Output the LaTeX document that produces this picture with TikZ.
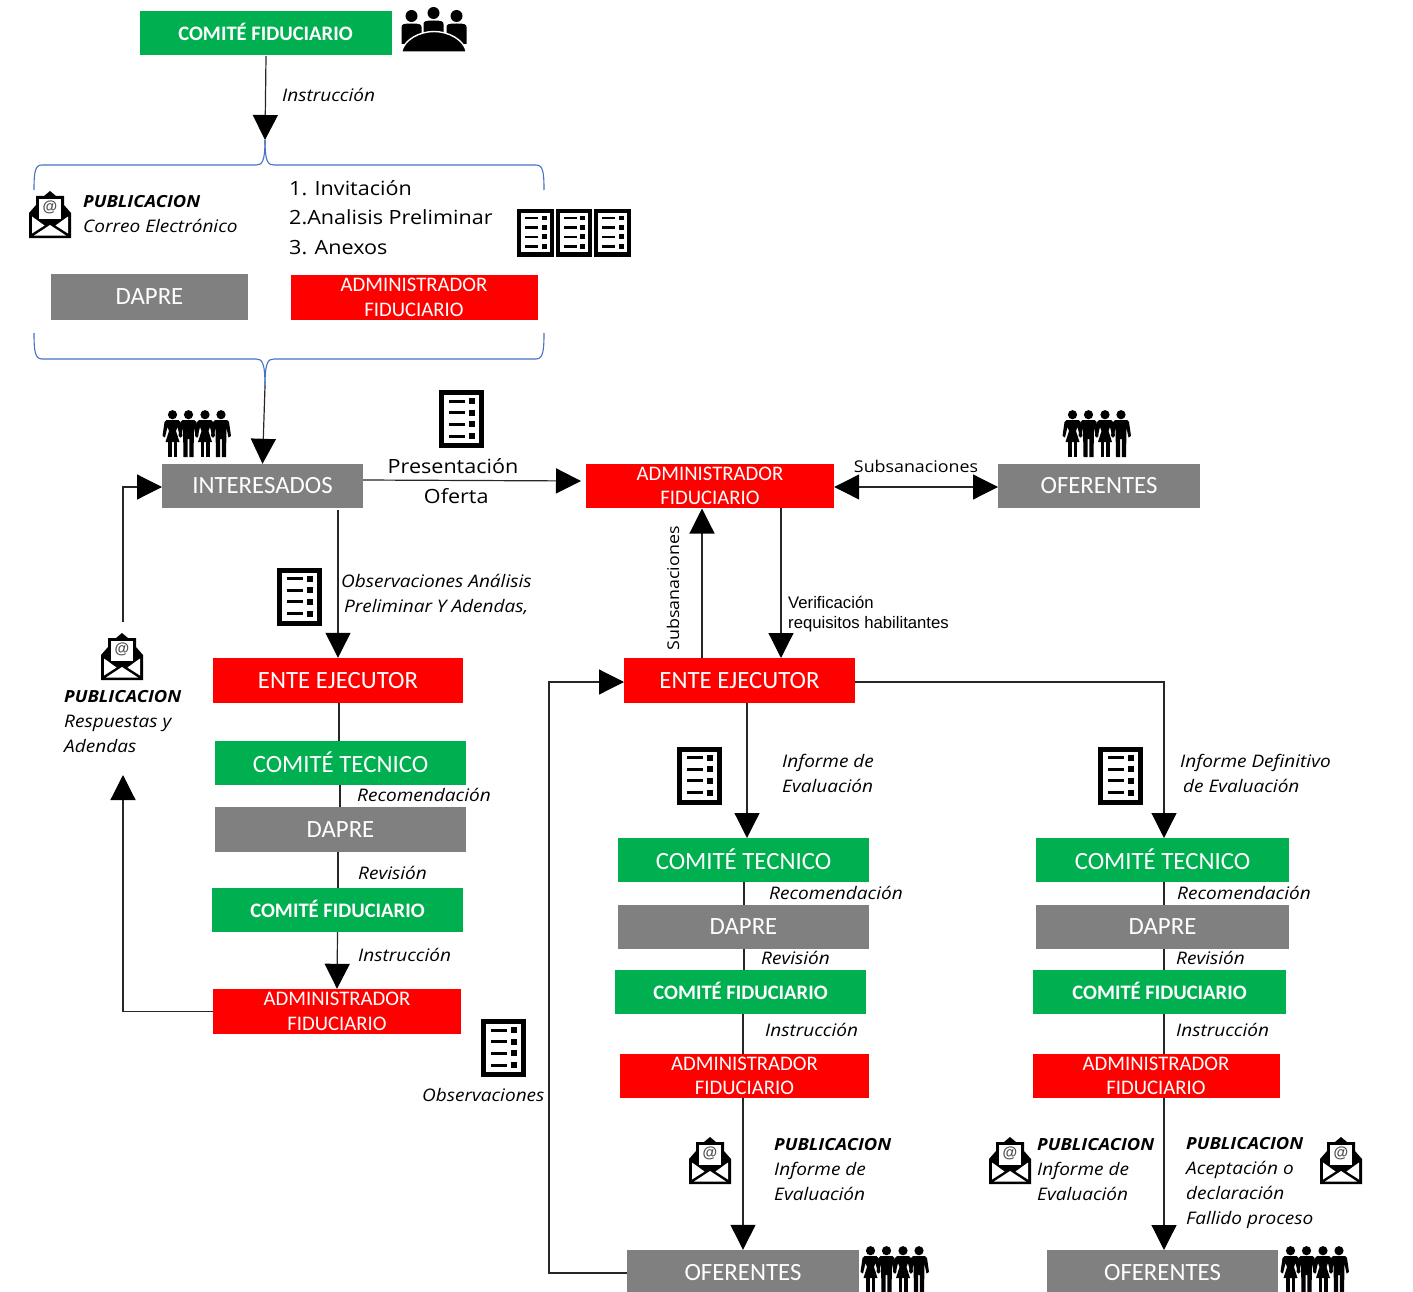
\documentclass[tikz,border=0pt]{standalone}
\usepackage{fontspec}
\setmainfont{Carlito}
\newfontfamily\labfont[FakeStretch=1.1]{Open Sans}
\newfontfamily\arialfont{Liberation Sans}
\usetikzlibrary{arrows.meta,calc}
\definecolor{gbox}{HTML}{00B050}
\definecolor{rbox}{HTML}{FF0000}
\definecolor{ybox}{HTML}{808080}
\definecolor{bracecol}{HTML}{4472C4}
\newcommand{\upt}[1]{\raisebox{1.5pt}{#1}}
\newcommand{\pubt}{{\fontsize{16.7}{25}\selectfont\bfseries PUBLICACION}}
\tikzset{
  x=1pt,y=-1pt,
  boxbase/.style={inner sep=0pt,text=white,align=center,font=\fontsize{24.8}{28}\selectfont},
  green box/.style={boxbase,fill=gbox},
  red box/.style={boxbase,fill=rbox},
  grey box/.style={boxbase,fill=ybox},
  cfid/.style={green box,font=\fontsize{20.6}{24}\selectfont\bfseries},
  adm/.style={red box,font=\fontsize{20.7}{24.5}\selectfont},
  lab/.style={inner sep=0pt,anchor=west,align=left,font=\labfont\fontsize{17.3}{25}\selectfont\itshape},
  plainlab/.style={inner sep=0pt,align=left,font=\labfont\fontsize{19.6}{29.5}\selectfont},
  subs/.style={inner sep=0pt,font=\labfont\fontsize{16.2}{18}\selectfont},
  conn/.style={line width=1.2pt,black!85},
  arr/.style={conn,-{Triangle[width=25pt,length=25pt,color=black]}},
  darr/.style={conn,{Triangle[width=25pt,length=25pt,color=black]}-{Triangle[width=25pt,length=25pt,color=black]}},
  bracepath/.style={draw=bracecol,line width=1.1pt},
  doc/.pic={
    \fill[black] (0,0) rectangle (45,58);
    \fill[white] (5,5) rectangle (40,53);
    \foreach \yy in {11,22.5,34,46}{
      \fill[black] (10,\yy-1.5) rectangle (26,\yy+1.5);
      \fill[black] (30,\yy-3) rectangle (36,\yy+3);
    }
  },
  mail/.pic={
    \fill[black] (0,21)--(7,13)--(7,4)--(15,4)--(21,-1)--(27,4)--(35,4)--(35,13)--(42,21)--(42,46)--(0,46)--cycle;
    \fill[white] (10,7) rectangle (32,27);
    \node[inner sep=0pt,font=\arialfont\fontsize{15}{15}\selectfont\bfseries,text=black!70] at (21,15.5) {@};
    \fill[white] (3,24.5)--(15.5,33.5)--(3,41.5)--cycle;
    \fill[white] (39,24.5)--(26.5,33.5)--(39,41.5)--cycle;
    \fill[white] (5,43.5)--(21,33)--(37,43.5)--cycle;
  },
  woman/.pic={
    \fill[black] (0,4.7) circle (4.6);
    \fill[black] (-6,10)--(6,10)--(8,12)--(10,26)--(7.5,27.5)--(5,17)--(3.5,21)--(7,32)--(-7,32)--(-3.5,21)--(-5,17)--(-7.5,27.5)--(-10,26)--(-8,12)--cycle;
    \fill[black] (-4.5,32) rectangle (-1,47);
    \fill[black] (1,32) rectangle (4.5,47);
  },
  man/.pic={
    \fill[black] (0,4.7) circle (4.6);
    \fill[black] (-6,10)--(6,10)--(8,12)--(10,26)--(7.5,27.5)--(5.5,18)--(5,47)--(0.8,47)--(0.8,29)--(-0.8,29)--(-0.8,47)--(-5,47)--(-5.5,18)--(-7.5,27.5)--(-10,26)--(-8,12)--cycle;
  },
  people/.pic={
    \pic at (9.5,0) {woman};
    \pic at (25.5,0) {man};
    \pic at (42,0) {woman};
    \pic at (58,0) {man};
  },
  meeting/.pic={
    \foreach \cx/\cy in {10.5/8,55.5/8,32.5/5}{
      \fill[black] (\cx,\cy) circle (6);
      \fill[black] (\cx-10,\cy+20)--(\cx-10,\cy+11) .. controls (\cx-10,\cy+8) and (\cx-7,\cy+7.5) .. (\cx,\cy+7.5)
        .. controls (\cx+7,\cy+7.5) and (\cx+10,\cy+8) .. (\cx+10,\cy+11)--(\cx+10,\cy+28)--(\cx-10,\cy+28)--cycle;
    }
    \fill[black,draw=white,line width=1.4pt] (0.5,44) .. controls (3,32) and (18,23.5) .. (33,23.5)
       .. controls (48,23.5) and (63,32) .. (65.5,44) -- cycle;
  }
}
\begin{document}
\begin{tikzpicture}
\useasboundingbox (0,0) rectangle (1413,1292);
% boxes: top
\node (cf0) [cfid,minimum width=252pt,minimum height=44pt] at (265.5,33) {\raisebox{2pt}{COMITÉ FIDUCIARIO}};
\node (dp0) [grey box,minimum width=197pt,minimum height=46pt] at (149.5,297) {DAPRE};
\node (ad0) [adm,minimum width=247pt,minimum height=45pt] at (414,297.5) {ADMINISTRADOR\\FIDUCIARIO};
\node (int) [grey box,minimum width=201pt,minimum height=44pt] at (262.5,486) {INTERESADOS};
\node (ad1) [adm,minimum width=248pt,minimum height=44pt] at (710,486) {ADMINISTRADOR\\FIDUCIARIO};
\node (of1) [grey box,minimum width=202pt,minimum height=44pt] at (1099,486) {OFERENTES};
% left column
\node (eeL) [red box,minimum width=250pt,minimum height=45pt] at (338,680.5) {ENTE EJECUTOR};
\node (ctL) [green box,minimum width=251pt,minimum height=44pt] at (340.5,763) {\upt{COMITÉ TECNICO}};
\node (dpL) [grey box,minimum width=251pt,minimum height=45pt] at (340.5,829.5) {DAPRE};
\node (cfL) [cfid,minimum width=251pt,minimum height=44pt] at (337.5,910) {\upt{COMITÉ FIDUCIARIO}};
\node (adL) [adm,minimum width=248pt,minimum height=45pt] at (337,1011.5) {ADMINISTRADOR\\FIDUCIARIO};
% middle column
\node (eeM) [red box,minimum width=231pt,minimum height=45pt] at (739.5,680.5) {ENTE EJECUTOR};
\node (ctM) [green box,minimum width=251pt,minimum height=44pt] at (743.5,860) {\upt{COMITÉ TECNICO}};
\node (dpM) [grey box,minimum width=251pt,minimum height=44pt] at (743.5,927) {DAPRE};
\node (cfM) [cfid,minimum width=251pt,minimum height=44pt] at (740.5,992) {\upt{COMITÉ FIDUCIARIO}};
\node (adM) [adm,minimum width=249pt,minimum height=44pt] at (744.5,1076) {ADMINISTRADOR\\FIDUCIARIO};
\node (ofM) [grey box,minimum width=232pt,minimum height=46pt] at (743,1273) {OFERENTES};
% right column
\node (ctR) [green box,minimum width=253pt,minimum height=44pt] at (1162.5,860) {\upt{COMITÉ TECNICO}};
\node (dpR) [grey box,minimum width=253pt,minimum height=44pt] at (1162.5,927) {DAPRE};
\node (cfR) [cfid,minimum width=253pt,minimum height=44pt] at (1159.5,992) {\upt{COMITÉ FIDUCIARIO}};
\node (adR) [adm,minimum width=247pt,minimum height=44pt] at (1156,1076) {ADMINISTRADOR\\FIDUCIARIO};
\node (ofR) [grey box,minimum width=231pt,minimum height=46pt] at (1162.5,1273) {OFERENTES};
% braces
\coordinate (braceT) at (265,140);
\coordinate (braceB) at (265,386);
\draw[bracepath] (34,190) .. controls (34,172) and (35,165) .. (42,165) -- (256,165) .. controls (262,165) and (265,162) .. (braceT);
\draw[bracepath] (544,190) .. controls (544,172) and (543,165) .. (536,165) -- (274,165) .. controls (268,165) and (265,162) .. (braceT);
\draw[bracepath] (34,333) .. controls (34,351) and (35,359) .. (42,359) -- (256,359) .. controls (262,359) and (265,362) .. (braceB);
\draw[bracepath] (544,333) .. controls (544,351) and (543,359) .. (536,359) -- (274,359) .. controls (268,359) and (265,362) .. (braceB);
% connectors
\draw[arr] (cf0.south) ++(0.5,1) -- (braceT);
\draw[arr] (braceB) -- (int.north);
\draw[arr] (int.east |- 0,480) -- (581,481) coordinate (pres);
\draw[darr] (ad1.east) ++(0,1) -- (998,487);
\draw[arr] (781,508) -- (781,658);
\draw[arr] (702,658) -- (702,508.5);
\coordinate (pubT) at (123,622);
\draw[arr] (pubT) -- (123,487) -- (162,487);
\draw[arr] (eeL.north |- int.south) ++(0,2) -- (eeL.north);
\draw[conn] (339,703) -- (339,741);
\draw[conn] (340,785) -- (340,807);
\draw[conn] (338,852) -- (338,888);
\draw[arr] (cfL.south) -- (adL.north);
\coordinate (pubB) at (123,775);
\draw[arr] (adL.west) -- (adL.west -| pubB) -- (pubB);
\draw[arr] (747,703) -- (747,838);
\draw[conn] (744,882) -- (744,905);
\draw[conn] (744,949) -- (744,970);
\draw[conn] (743,1014) -- (743,1054);
\draw[arr] (743,1098) -- (ofM.north);
\coordinate (loopc) at (549,1273);
\draw[arr] (ofM.west) -- (loopc) -- (549,682) -- (624,682);
\draw[arr] (855,682) -- (1164,682) -- (1164,838);
\draw[conn] (1164,882) -- (1164,905);
\draw[conn] (1164,949) -- (1164,970);
\draw[conn] (1164,1014) -- (1164,1054);
\draw[arr] (1164,1098) -- (1164,1250);
% labels
\node (l1) [lab] at (282,94.5) {Instrucción};
\node (l2) [lab] at (83,214) {\pubt\\Correo Electrónico};
\node (l3) [plainlab,anchor=north west] at (289,180) {1. Invitación\\2.Analisis Preliminar\\3. Anexos};
\node (l4) [plainlab,align=center] at (453,481) {Presentación\\\,\,Oferta};
\node (l5) [subs] at (916,466.5) {Subsanaciones};
\node (l6) [subs,rotate=90] at (673,588.5) {Subsanaciones};
\node (l7) [inner sep=0pt,anchor=west,align=left,font=\arialfont\fontsize{16.7}{20}\selectfont] at (788,614) {Verificación\\requisitos habilitantes};
\node (l8) [lab] at (341,594.5) {Observaciones Análisis\\ \,Preliminar Y Adendas,};
\node (l9) [lab] at (64,722) {\pubt\\Respuestas y\\Adendas};
\node (l10) [lab] at (357,795) {Recomendación};
\node (l11) [lab] at (358,873) {Revisión};
\node (l12) [lab] at (358,955) {Instrucción};
\node (l13) [lab] at (422,1095) {Observaciones};
\node (l14) [lab] at (782,773) {Informe de\\Evaluación};
\node (l15) [lab] at (769,893) {Recomendación};
\node (l16) [lab] at (761,958) {Revisión};
\node (l17) [lab] at (765,1030) {Instrucción};
\node (l18) [lab] at (774,1170) {\pubt\\Informe de\\Evaluación};
\node (l19) [lab] at (1180,773) {Informe Definitivo\\ \,de Evaluación};
\node (l20) [lab] at (1177,893) {Recomendación};
\node (l21) [lab] at (1176,958) {Revisión};
\node (l22) [lab] at (1176,1030) {Instrucción};
\node (l23) [lab] at (1037,1170) {\pubt\\Informe de\\Evaluación};
\node (l24) [lab] at (1186,1183) {\pubt\\Aceptación o\\declaración\\Fallido proceso};
% icons
\pic at (401,8) {meeting};
\pic at (29,192) {mail};
\pic at (101,634) {mail};
\pic at (689,1138) {mail};
\pic at (989,1138) {mail};
\pic at (1320,1138) {mail};
\pic at (438.5,390) {doc};
\pic at (277,567.5) {doc};
\pic at (677,746.5) {doc};
\pic at (1098,746.5) {doc};
\pic at (481,1019) {doc};
\pic[xscale=.82,yscale=.82] at (517,209) {doc};
\pic[xscale=.82,yscale=.82] at (555.5,209) {doc};
\pic[xscale=.82,yscale=.82] at (594,209) {doc};
\pic at (163,410) {people};
\pic at (1063,410) {people};
\pic at (861,1246) {people};
\pic at (1281,1246) {people};
\end{tikzpicture}
\end{document}
